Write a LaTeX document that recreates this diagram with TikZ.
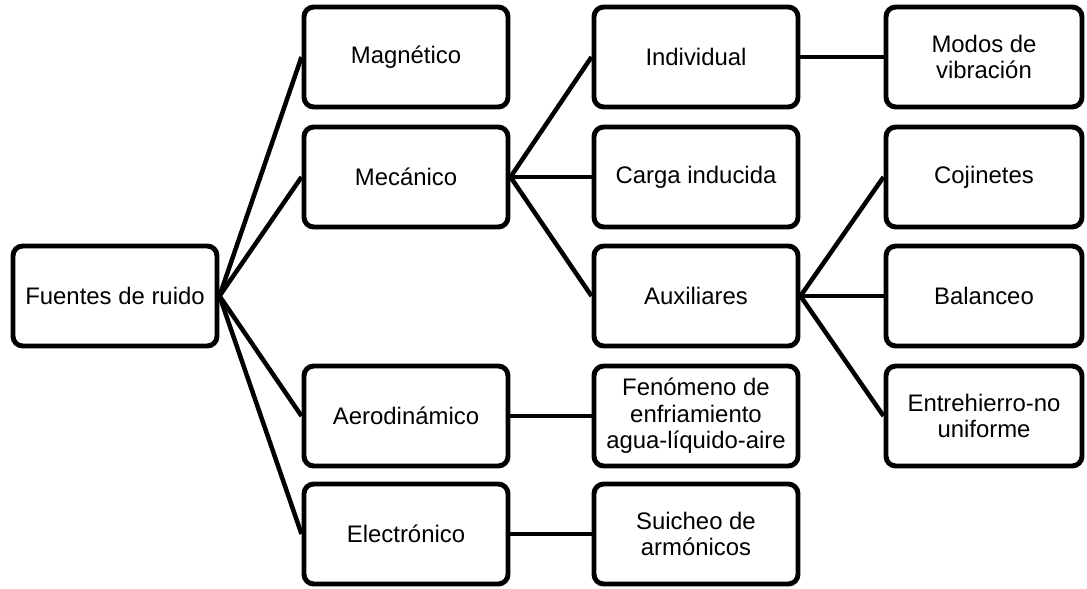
\documentclass[tikz,border=0pt]{standalone}
\usepackage{fontspec}
\setmainfont{Liberation Sans}
\usepackage{tikz}

\begin{document}
\begin{tikzpicture}[x=0.025cm, y=-0.025cm,
  box/.style={rectangle, rounded corners=7pt, draw, line width=3.5pt, fill=white,
    minimum width=5.1cm, minimum height=2.5cm, align=center,
    font=\fontsize{17}{18.8}\selectfont},
  narrow/.style={minimum width=4.9cm},
  link/.style={line width=3.2pt}]
  \useasboundingbox (0,0) rectangle (1087,588);
  % columns at x = 115, 406, 696, 984 ; rows every 119.5px
  \node[box] (fuentes) at (115,296) {Fuentes de ruido};
  \node[box] (magnetico) at (406,57) {Magnético};
  \node[box] (mecanico) at (406,177) {Mecánico};
  \node[box] (aero) at (406,416) {Aerodinámico};
  \node[box] (electronico) at (406,534) {Electrónico};
  \node[box] (individual) at (696,57) {Individual};
  \node[box] (carga) at (696,177) {Carga inducida};
  \node[box] (auxiliares) at (696,296) {Auxiliares};
  \node[box] (fenomeno) at (696,416) {Fenómeno de\\enfriamiento\\agua-líquido-aire};
  \node[box] (suicheo) at (696,534) {Suicheo de\\armónicos};
  \node[box, narrow] (modos) at (984,57) {Modos de\\vibración};
  \node[box, narrow] (cojinetes) at (984,177) {Cojinetes};
  \node[box, narrow] (balanceo) at (984,296) {Balanceo};
  \node[box, narrow] (entrehierro) at (984,416) {Entrehierro-no\\uniforme};

  \foreach \child in {magnetico, mecanico, aero, electronico}
    \draw[link] (fuentes.east) -- (\child.west);
  \foreach \child in {individual, carga, auxiliares}
    \draw[link] (mecanico.east) -- (\child.west);
  \foreach \child in {cojinetes, balanceo, entrehierro}
    \draw[link] (auxiliares.east) -- (\child.west);
  \draw[link] (individual.east) -- (modos.west);
  \draw[link] (aero.east) -- (fenomeno.west);
  \draw[link] (electronico.east) -- (suicheo.west);
\end{tikzpicture}
\end{document}
